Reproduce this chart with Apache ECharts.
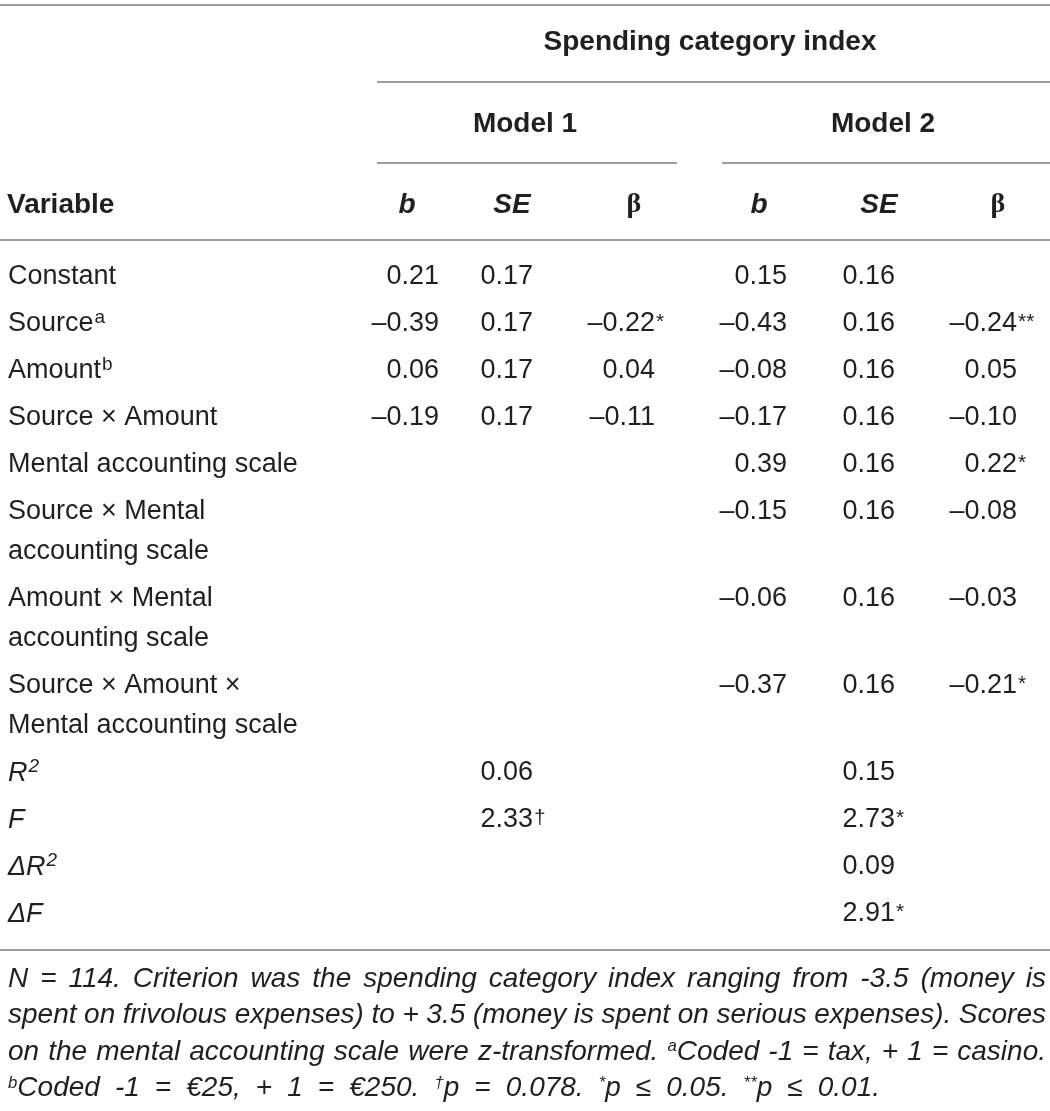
<!DOCTYPE html>
<html>
<head>
<meta charset="utf-8">
<script src="https://cdn.jsdelivr.net/npm/echarts@6/dist/echarts.min.js"></script>
<style>
  html, body { margin: 0; padding: 0; background: #ffffff; }
  #chart { width: 1050px; height: 1111px; }
</style>
</head>
<body>
<div id="chart"></div>
<script>
const variables = [
  'Constant',
  'Source',
  'Amount',
  'Source × Amount',
  'Mental accounting scale',
  'Source × Mental\naccounting scale',
  'Amount × Mental\naccounting scale',
  'Source × Amount ×\nMental accounting scale'
];
const variableNotes = ['', 'a', 'b', '', '', '', '', ''];
const model1B    = [0.21, -0.39, 0.06, -0.19, null, null, null, null];
const model1SE   = [0.17, 0.17, 0.17, 0.17, null, null, null, null];
const model1Beta = [null, -0.22, 0.04, -0.11, null, null, null, null];
const model1Sig  = ['', '*', '', '', '', '', '', ''];
const model2B    = [0.15, -0.43, -0.08, -0.17, 0.39, -0.15, -0.06, -0.37];
const model2SE   = [0.16, 0.16, 0.16, 0.16, 0.16, 0.16, 0.16, 0.16];
const model2Beta = [null, -0.24, 0.05, -0.10, 0.22, -0.08, -0.03, -0.21];
const model2Sig  = ['', '**', '', '', '*', '', '', '*'];

const fitLabels    = ['R', 'F', 'ΔR', 'ΔF'];
const fitLabelSup  = ['2', '', '2', ''];
const fitModel1    = [0.06, 2.33, null, null];
const fitModel1Sig = ['', '†', '', ''];
const fitModel2    = [0.15, 2.73, 0.09, 2.91];
const fitModel2Sig = ['', '*', '', '*'];

const groupTitle = 'Spending category index';
const modelTitles = ['Model 1', 'Model 2'];
const colHeads = ['b', 'SE', 'β', 'b', 'SE', 'β'];

// footnote, ^x marks a superscript
const noteLines = [
  'N = 114. Criterion was the spending category index ranging from -3.5 (money is',
  'spent on frivolous expenses) to + 3.5 (money is spent on serious expenses). Scores',
  'on the mental accounting scale were z-transformed. ^aCoded -1 = tax, + 1 = casino.',
  '^bCoded -1 = €25, + 1 = €250. ^†p = 0.078. ^*p ≤ 0.05. ^**p ≤ 0.01.'
];

// ---- layout ----
const W = 1050, H = 1111;
const FONT = '"Liberation Sans", Arial, Helvetica, sans-serif';
const INK = '#231f20';
const RULE = '#9d9d9d';
const BODY = 27, HEAD = 28, SUP = 19, SIG = 21;
const numRight = [439, 533, 655, 787, 895, 1017];
const headCenter = [407, 512, 634, 759, 879, 998];

const mctx = document.createElement('canvas').getContext('2d');
function measure(str, size, style) {
  mctx.font = (style || 'normal') + ' normal ' + size + 'px ' + FONT;
  return mctx.measureText(str).width;
}

function fmt(v) {
  if (v == null) return '';
  return (v < 0 ? '–' : '') + Math.abs(v).toFixed(2);
}

const cells = [];
function put(x, y, text, o) { cells.push(Object.assign({ x: x, y: y, text: text }, o || {})); }

// header
put(710, 42, groupTitle, { align: 'center', weight: 'bold', size: HEAD });
put(525, 124, modelTitles[0], { align: 'center', weight: 'bold', size: HEAD });
put(883, 124, modelTitles[1], { align: 'center', weight: 'bold', size: HEAD });
put(7, 205, 'Variable', { weight: 'bold', size: HEAD });
colHeads.forEach(function (h, i) {
  const greek = h === 'β';
  put(headCenter[i], 205, h, {
    align: 'center', weight: 'bold', size: HEAD, style: greek ? 'normal' : 'italic',
    family: greek ? '"Liberation Serif", "DejaVu Serif", serif' : FONT
  });
});

function putLabel(y, text, sup, style) {
  put(8, y, text, { style: style });
  if (sup) put(8 + measure(text, BODY, style) + 1, y - 16, sup, { size: SUP, vAlign: 'top', style: style });
}
function putNum(col, y, v, sig) {
  if (v == null) return;
  put(numRight[col], y, fmt(v), { align: 'right' });
  if (sig) put(numRight[col] + 1, y - 12, sig, { size: SIG, vAlign: 'top' });
}

// body rows
let y = 277;
variables.forEach(function (label, i) {
  const lines = label.split('\n');
  lines.forEach(function (line, k) { putLabel(y + 40 * k, line, k === 0 ? variableNotes[i] : ''); });
  putNum(0, y, model1B[i]);
  putNum(1, y, model1SE[i]);
  putNum(2, y, model1Beta[i], model1Sig[i]);
  putNum(3, y, model2B[i]);
  putNum(4, y, model2SE[i]);
  putNum(5, y, model2Beta[i], model2Sig[i]);
  y += 47 + 40 * (lines.length - 1);
});
fitLabels.forEach(function (label, i) {
  putLabel(y, label, fitLabelSup[i], 'italic');
  putNum(1, y, fitModel1[i], fitModel1Sig[i]);
  putNum(4, y, fitModel2[i], fitModel2Sig[i]);
  y += 47;
});

// footnote, justified word by word
const NOTE_LEFT = 8, NOTE_WIDTH = 1038, NOTE_LAST = 872;
function wordParts(w) {
  const m = w.match(/^\^([^A-Za-z0-9]+|[a-z])(.*)$/);
  return m ? { sup: m[1], body: m[2] } : { sup: '', body: w };
}
function lineWidth(line, size) {
  const words = line.split(' ').map(wordParts);
  return words.reduce(function (a, p) { return a + measure(p.sup, size * 0.6, 'italic') + measure(p.body, size, 'italic'); }, 0) +
    (words.length - 1) * measure(' ', size, 'italic') * 0.8;
}
let noteSize = 28;
while (noteSize > 16 && noteLines.slice(0, -1).some(function (l) { return lineWidth(l, noteSize) > NOTE_WIDTH; })) {
  noteSize -= 0.25;
}
const noteSup = noteSize * 0.6;
noteLines.forEach(function (line, li) {
  const words = line.split(' ').map(wordParts);
  const widths = words.map(function (p) { return measure(p.sup, noteSup, 'italic') + measure(p.body, noteSize, 'italic'); });
  const total = widths.reduce(function (a, b) { return a + b; }, 0);
  const target = li === noteLines.length - 1 ? NOTE_LAST : NOTE_WIDTH;
  const gap = (target - total) / (words.length - 1);
  let x = NOTE_LEFT;
  const ny = 979 + li * 36.5;
  words.forEach(function (p, wi) {
    const txt = (p.sup ? '{ns|' + p.sup + '}' : '') + '{nb|' + p.body + '}';
    put(x, ny, txt, { note: true, size: noteSize });
    x += widths[wi] + gap;
  });
});

const noteRich = {
  nb: { fontSize: noteSize, fontFamily: FONT, fontStyle: 'italic', fill: INK },
  ns: { fontSize: noteSup, fontFamily: FONT, fontStyle: 'italic', fill: INK, verticalAlign: 'top', padding: [0, 0, 6, 0] }
};

// horizontal rules: [x1, x2, y]
const rules = [
  [0, 1050, 5], [377, 1050, 82], [377, 677, 163], [722, 1050, 163], [0, 1050, 240], [0, 1050, 950]
];

const chart = echarts.init(document.getElementById('chart'), null, { renderer: 'canvas' });
chart.setOption({
  backgroundColor: '#ffffff',
  animation: false,
  grid: { left: 0, right: 0, top: 0, bottom: 0 },
  xAxis: { type: 'value', min: 0, max: W, show: false },
  yAxis: { type: 'value', min: 0, max: H, inverse: true, show: false },
  series: [
    {
      type: 'custom',
      data: rules,
      silent: true,
      renderItem: function (params, api) {
        const a = api.coord([api.value(0), api.value(2)]);
        const b = api.coord([api.value(1), api.value(2)]);
        return {
          type: 'line',
          shape: { x1: a[0], y1: a[1], x2: b[0], y2: b[1] },
          style: { stroke: RULE, lineWidth: 2 }
        };
      }
    },
    {
      type: 'custom',
      data: cells.map(function (c) { return [c.x, c.y]; }),
      silent: true,
      renderItem: function (params, api) {
        const c = cells[params.dataIndex];
        const p = api.coord([api.value(0), api.value(1)]);
        const style = {
          x: p[0], y: p[1],
          text: c.text,
          fill: INK,
          fontSize: c.size || BODY,
          fontFamily: c.family || FONT,
          fontWeight: c.weight || 'normal',
          fontStyle: c.style || 'normal',
          align: c.align || 'left',
          verticalAlign: c.vAlign || 'middle'
        };
        if (c.note) style.rich = noteRich;
        return { type: 'text', style: style };
      }
    }
  ]
});
</script>
</body>
</html>
